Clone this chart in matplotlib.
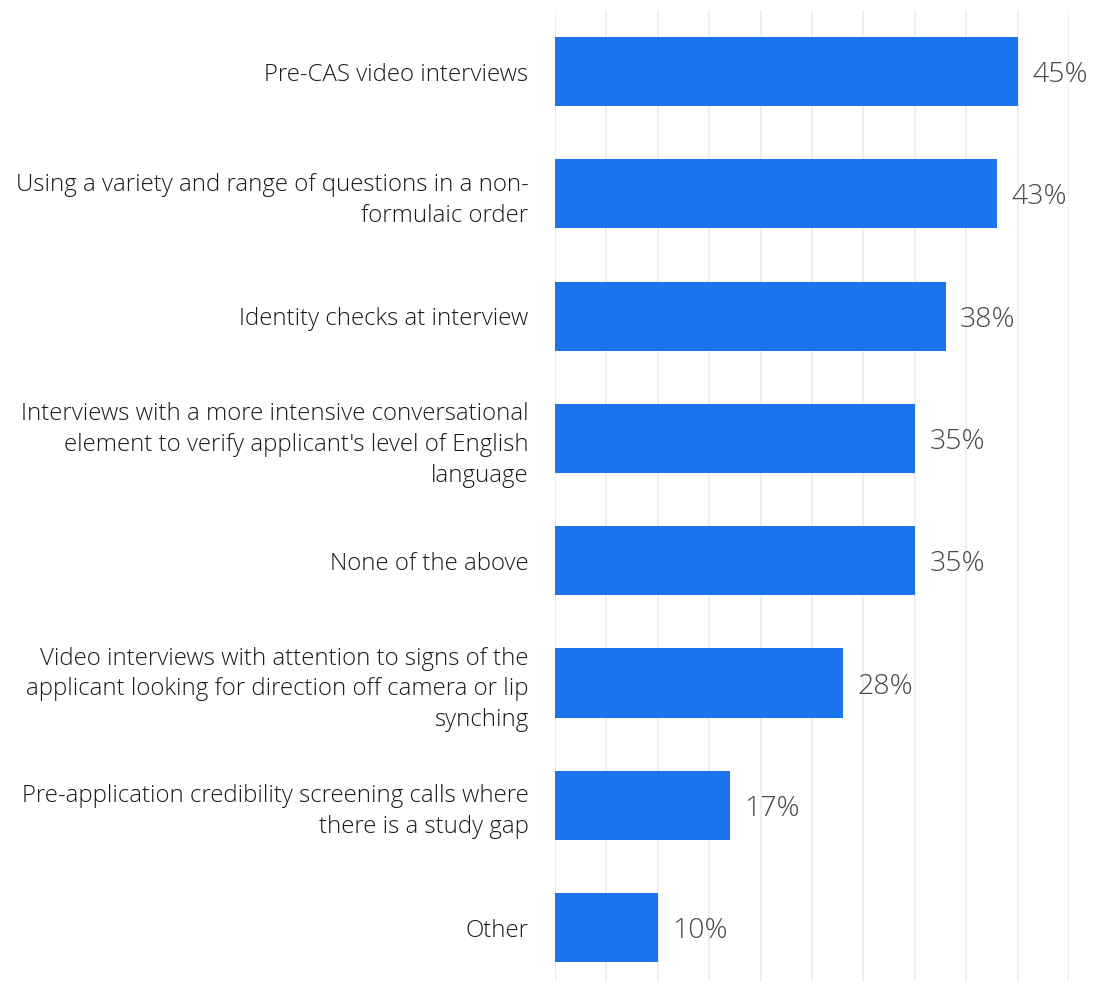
import matplotlib.pyplot as plt
from matplotlib.ticker import MultipleLocator

labels = [
    "Pre-CAS video interviews",
    "Using a variety and range of questions in a non-\nformulaic order",
    "Identity checks at interview",
    "Interviews with a more intensive conversational\nelement to verify applicant's level of English\nlanguage",
    "None of the above",
    "Video interviews with attention to signs of the\napplicant looking for direction off camera or lip\nsynching",
    "Pre-application credibility screening calls where\nthere is a study gap",
    "Other",
]
values = [45, 43, 38, 35, 35, 28, 17, 10]

plt.rcParams['font.family'] = ['Open Sans', 'DejaVu Sans']

fig = plt.figure(figsize=(10.94, 9.81), dpi=100)
ax = fig.add_axes([555 / 1094, 0.0, (1069 - 555) / 1094, 1 - 10 / 981])

pos = list(range(len(values)))
ax.barh(pos, values, height=0.565, color='#1c73ee', zorder=2)

for p, v in zip(pos, values):
    ax.text(v + 1.4, p + 0.03, f"{v}%", va='center', ha='left', fontsize=20.5,
            color='#484848', fontweight='light')

ax.set_xlim(0, 50)
ax.set_ylim(7.437, -0.503)
ax.xaxis.set_major_locator(MultipleLocator(5))
ax.grid(axis='x', color='#ececec', linewidth=1.2, zorder=0)
ax.set_xticklabels([])
ax.tick_params(axis='x', length=0)
ax.set_yticks(pos)
ax.set_yticklabels(labels, fontsize=17.3, color='#1a1a1a', fontweight='light',
                   linespacing=1.38)
ax.tick_params(axis='y', length=0, pad=19)
for s in ax.spines.values():
    s.set_visible(False)

fig.savefig('out.png', dpi=100)
